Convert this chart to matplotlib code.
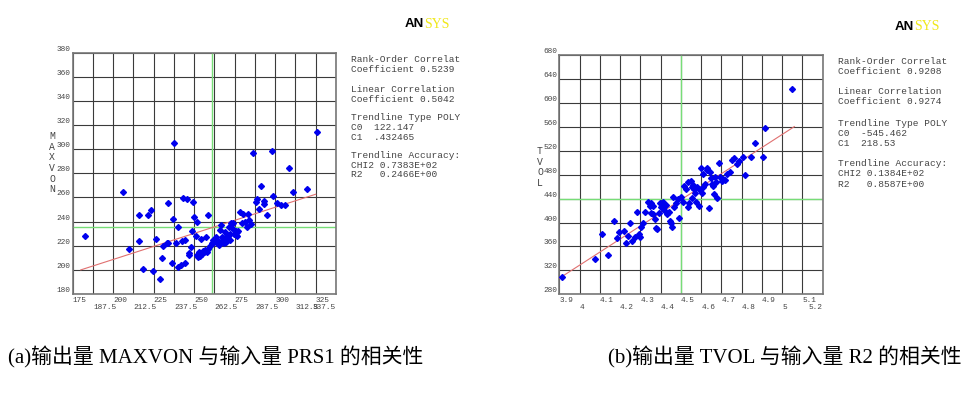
import matplotlib
matplotlib.use("Agg")
import matplotlib.pyplot as plt
import numpy as np

# ---------------- data (a) ----------------
prs1 = [182.6, 205.9, 210.0, 215.9, 215.7, 218.6, 221.7, 223.1, 224.8, 226.6,
        228.9, 229.9, 230.9, 233.0, 233.6, 234.0, 236.1, 236.7, 237.5, 238.8,
        240.2, 239.8, 241.6, 242.2, 243.3, 244.3, 244.3, 245.8, 247.0, 247.0,
        247.8, 248.8, 249.2, 250.1, 250.9, 251.5, 251.9, 253.0, 254.0, 253.6,
        255.0, 256.0, 257.0, 257.7, 258.5, 258.7, 259.7, 261.4, 262.4, 263.4,
        263.8, 265.1, 265.9, 266.5, 267.3, 268.0, 269.0, 269.6, 270.4, 271.5,
        272.1, 272.7, 273.3, 274.1, 274.5, 275.6, 276.6, 277.2, 276.2, 278.3,
        279.5, 279.9, 281.3, 282.4, 283.2, 284.0, 285.0, 286.5, 288.1, 288.5,
        289.9, 291.0, 293.0, 293.0, 294.9, 297.8, 298.4, 300.9, 303.3, 305.8,
        308.3, 311.2, 319.8, 326.0, 252.5, 254.6, 255.6, 256.7, 260.8, 261.8,
        264.3, 266.9, 268.4, 271.1, 272.1]
maxvon = [228.3, 264.5, 217.6, 245.5, 223.9, 200.7, 245.2, 249.9, 199.1, 225.6,
          192.2, 209.8, 219.8, 222.5, 255.7, 222.0, 205.4, 241.9, 305.4, 222.0,
          235.8, 202.6, 203.8, 224.2, 259.3, 225.0, 205.4, 259.0, 213.7, 212.0,
          219.2, 231.9, 256.2, 244.1, 228.3, 239.4, 212.0, 214.5, 225.8, 211.5,
          212.9, 214.8, 227.0, 215.1, 245.5, 217.6, 219.8, 222.5, 223.6, 227.0,
          222.0, 220.6, 233.0, 237.2, 224.2, 226.1, 231.1, 223.4, 228.3, 235.2,
          224.7, 238.6, 234.4, 238.6, 229.7, 231.9, 231.1, 231.9, 228.0, 248.2,
          238.6, 246.3, 239.4, 235.8, 246.3, 241.3, 237.7, 297.1, 256.5, 258.4,
          250.2, 269.5, 254.6, 257.3, 245.7, 298.8, 261.5, 255.7, 253.7, 253.7,
          284.7, 264.2, 266.7, 314.5, 210.9, 213.7, 215.9, 216.5, 222.0, 224.7,
          224.7, 227.5, 222.0, 226.1, 229.7]
a_c0, a_c1 = 122.147, 0.432465
a_fit_x = [180.0, 325.0]
a_mean_x, a_mean_y = 260.9, 235.8
a_xticks = [175, 187.5, 200, 212.5, 225, 237.5, 250, 262.5, 275, 287.5, 300, 312.5, 325, 337.5]
a_xlabels = ["175", "187.5", "200", "212.5", "225", "237.5", "250", "262.5", "275", "287.5", "300", "312.5", "325", "337.5"]
a_yticks = [180, 200, 220, 240, 260, 280, 300, 320, 340, 360, 380]
a_stats = ["Rank-Order Correlat", "Coefficient 0.5239", "Linear Correlation",
           "Coefficient 0.5042", "Trendline Type POLY", "C0  122.147", "C1  .432465",
           "Trendline Accuracy:", "CHI2 0.7383E+02", "R2   0.2466E+00"]

# ---------------- data (b) ----------------
r2 = [3.912, 4.074, 4.111, 4.140, 4.168, 4.183, 4.193, 4.218, 4.227, 4.239,
      4.249, 4.259, 4.274, 4.282, 4.292, 4.298, 4.302, 4.315, 4.323, 4.339,
      4.348, 4.353, 4.361, 4.372, 4.377, 4.384, 4.392, 4.402, 4.410, 4.413,
      4.425, 4.433, 4.441, 4.446, 4.450, 4.456, 4.463, 4.468, 4.476, 4.487,
      4.492, 4.499, 4.509, 4.517, 4.524, 4.534, 4.540, 4.548, 4.557, 4.562,
      4.570, 4.575, 4.581, 4.589, 4.594, 4.601, 4.606, 4.611, 4.619, 4.627,
      4.637, 4.644, 4.650, 4.657, 4.664, 4.672, 4.677, 4.687, 4.693, 4.701,
      4.710, 4.719, 4.729, 4.743, 4.752, 4.762, 4.775, 4.785, 4.805, 4.815,
      4.845, 4.864, 4.904, 4.914, 5.049, 4.537, 4.553, 4.566, 4.608, 4.630,
      4.652, 4.668, 4.397, 4.418, 4.364, 4.351]
tvol = [308.4, 338.5, 380.3, 346.3, 402.6, 374.7, 384.2, 385.8, 365.8, 378.0,
        399.8, 368.6, 376.4, 417.0, 380.8, 376.4, 393.1, 399.8, 417.0, 434.9,
        428.2, 415.4, 413.7, 405.3, 390.3, 389.2, 416.5, 426.5, 434.9, 423.7,
        429.3, 414.3, 418.2, 402.6, 398.7, 392.0, 442.1, 425.4, 432.1, 438.8,
        407.0, 443.2, 434.9, 461.0, 455.5, 426.5, 432.1, 469.4, 440.4, 462.7,
        449.9, 434.9, 459.9, 427.6, 454.4, 491.7, 448.8, 481.1, 464.4, 491.7,
        424.9, 485.0, 474.4, 461.6, 447.7, 468.3, 441.6, 500.0, 476.7, 470.0,
        472.8, 471.1, 481.1, 483.9, 504.5, 507.3, 497.8, 503.4, 509.0, 480.0,
        509.0, 533.5, 510.1, 558.6, 623.7, 468.3, 459.9, 455.5, 459.9, 487.8,
        464.4, 476.7, 432.1, 421.0, 427.6, 432.1]
b_c0, b_c1 = -545.462, 218.53
b_fit_x = [3.9, 5.06]
b_mean_x, b_mean_y = 4.5, 439.3
b_xticks = [3.9, 4.0, 4.1, 4.2, 4.3, 4.4, 4.5, 4.6, 4.7, 4.8, 4.9, 5.0, 5.1, 5.2]
b_xlabels = ["3.9", "4", "4.1", "4.2", "4.3", "4.4", "4.5", "4.6", "4.7", "4.8", "4.9", "5", "5.1", "5.2"]
b_yticks = [280, 320, 360, 400, 440, 480, 520, 560, 600, 640, 680]
b_stats = ["Rank-Order Correlat", "Coefficient 0.9208", "Linear Correlation",
           "Coefficient 0.9274", "Trendline Type POLY", "C0  -545.462", "C1  218.53",
           "Trendline Accuracy:", "CHI2 0.1384E+02", "R2   0.8587E+00"]

captions = ["(a)输出量 MAXVON 与输入量 PRS1 的相关性", "(b)输出量 TVOL 与输入量 R2 的相关性"]
ylabels = ["MAXVON", "TVOL"]

W, H = 970, 394
fig = plt.figure(figsize=(W / 100, H / 100), dpi=100)
MONO = "Liberation Mono"
GRID = "#3a3a3a"
TXT = "#444444"


def px_axes(l, t, r, b):
    return fig.add_axes([l / W, 1 - b / H, (r - l) / W, (b - t) / H])


def panel(ax, xs, ys, c0, c1, fitx, mx, my, xticks, xlabels, yticks, ylab, lab_xy):
    ax.set_xlim(xticks[0], xticks[-1])
    ax.set_ylim(yticks[0], yticks[-1])
    ax.set_xticks(xticks)
    ax.set_xticklabels([l if i % 2 == 0 else "\n" + l for i, l in enumerate(xlabels)],
                       fontfamily=MONO, fontsize=5.6, color=TXT, ha="left", linespacing=1.05)
    ax.set_yticks(yticks)
    ax.set_yticklabels([str(v) for v in yticks], fontfamily=MONO, fontsize=5.6,
                       color=TXT, va="bottom")
    ax.tick_params(length=0, pad=2)
    ax.tick_params(axis="y", pad=1.5)
    ax.get_xticklabels()[-1].set_ha("right")
    ax.grid(True, color=GRID, lw=0.8)
    ax.set_axisbelow(True)
    for s in ax.spines.values():
        s.set_color("#777777")
        s.set_linewidth(1.2)
    ax.axvline(mx, color="#77dd77", lw=1.0, zorder=2)
    ax.axhline(my, color="#77dd77", lw=1.0, zorder=2)
    fx = np.array(fitx)
    ax.plot(fx, c0 + c1 * fx, color="#e07070", lw=0.8, zorder=3)
    ax.plot(xs, ys, ls="none", marker="D", ms=3.0, color="#0000ee", mec="#0000ee", zorder=4)
    # stacked vertical axis title
    lx, ly = lab_xy
    for i, ch in enumerate(ylab):
        fig.text(lx / W, 1 - (ly + i * 10.7) / H, ch, fontfamily=MONO, fontsize=7,
                 color=TXT, ha="center", va="center")


axa = px_axes(72.7, 52.7, 336, 294)
panel(axa, prs1, maxvon, a_c0, a_c1, a_fit_x, a_mean_x, a_mean_y,
      a_xticks, a_xlabels, a_yticks, ylabels[0], (52, 136))
axb = px_axes(559.3, 55, 822.7, 294.3)
panel(axb, r2, tvol, b_c0, b_c1, b_fit_x, b_mean_x, b_mean_y,
      b_xticks, b_xlabels, b_yticks, ylabels[1], (540, 151))

# statistics text blocks
a_ys = [59, 69, 90, 100, 118, 127.5, 137, 155, 165, 174.5]
b_ys = [62, 72, 92, 102, 124, 133.5, 143.5, 163.5, 174, 184]
for txt, y in zip(a_stats, a_ys):
    fig.text(351.5 / W, 1 - y / H, txt, fontfamily=MONO, fontsize=6.8, color=TXT,
             ha="left", va="center")
for txt, y in zip(b_stats, b_ys):
    fig.text(838.3 / W, 1 - y / H, txt, fontfamily=MONO, fontsize=6.8, color=TXT,
             ha="left", va="center")

# ANSYS logos
for xs_, y_ in [(424, 24), (914, 27)]:
    fig.text(xs_ / W, 1 - y_ / H, "AN", fontfamily="Liberation Sans", fontweight="bold",
             fontsize=9.5, color="black", ha="right", va="center")
    fig.text(xs_ / W, 1 - y_ / H, "SYS", fontfamily="Liberation Serif",
             fontsize=10, color="#f0e81a", ha="left", va="center")

# captions
cap_fam = ["Liberation Serif", "Noto Sans CJK SC"]
fig.text(8 / W, 1 - 357 / H, captions[0], family=cap_fam, fontsize=15,
         color="black", ha="left", va="center")
fig.text(608 / W, 1 - 357 / H, captions[1], family=cap_fam, fontsize=15,
         color="black", ha="left", va="center")

fig.savefig("out.png", dpi=100, facecolor="white")
